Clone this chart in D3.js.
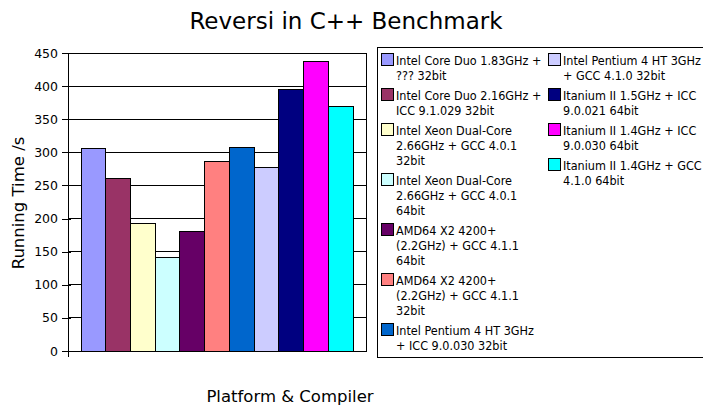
<!DOCTYPE html>
<html><head><meta charset="utf-8">
<script src="https://cdn.jsdelivr.net/npm/d3@7"></script>
<style>
body{margin:0;background:#fff;}
svg{display:block;}
</style></head>
<body>
<svg id="chart" width="703" height="412"></svg>
<script>
const title = "Reversi in C++ Benchmark";
const yTitle = "Running Time /s";
const xTitle = "Platform & Compiler";
const categories = [
  "Intel Core Duo 1.83GHz +\n??? 32bit",
  "Intel Core Duo 2.16GHz +\nICC 9.1.029 32bit",
  "Intel Xeon Dual-Core\n2.66GHz + GCC 4.0.1\n32bit",
  "Intel Xeon Dual-Core\n2.66GHz + GCC 4.0.1\n64bit",
  "AMD64 X2 4200+\n(2.2GHz) + GCC 4.1.1\n64bit",
  "AMD64 X2 4200+\n(2.2GHz) + GCC 4.1.1\n32bit",
  "Intel Pentium 4 HT 3GHz\n+ ICC 9.0.030 32bit",
  "Intel Pentium 4 HT 3GHz\n+ GCC 4.1.0 32bit",
  "Itanium II 1.5GHz + ICC\n9.0.021 64bit",
  "Itanium II 1.4GHz + ICC\n9.0.030 64bit",
  "Itanium II 1.4GHz + GCC\n4.1.0 64bit"
];
const values = [306, 261, 193, 141, 181, 286, 308, 277, 395, 437, 369];
const colors = ["#9999FF","#993366","#FFFFCC","#CCFFFF","#660066","#FF8080","#0066CC","#CCCCFF","#000080","#FF00FF","#00FFFF"];
const yTicks = [0,50,100,150,200,250,300,350,400,450];

const svg = d3.select("#chart");
const font = "'DejaVu Sans', Verdana, sans-serif";
const plot = {left:68, right:366, top:53, bottom:351};

const x = d3.scaleBand().domain(d3.range(categories.length))
  .range([plot.left + 13, plot.right - 13]).padding(0);
const y = d3.scaleLinear().domain([0,450]).range([plot.bottom, plot.top]);

// gridlines
svg.append("g").selectAll("line").data(yTicks.filter(d=>d>0)).join("line")
  .attr("x1", plot.left).attr("x2", plot.right)
  .attr("y1", d=>y(d)).attr("y2", d=>y(d))
  .attr("stroke","#000").attr("stroke-width",1).attr("shape-rendering","crispEdges");
// right border
svg.append("line").attr("x1",plot.right).attr("x2",plot.right).attr("y1",plot.top).attr("y2",plot.bottom)
  .attr("stroke","#000").attr("shape-rendering","crispEdges");

// bars
svg.append("g").selectAll("rect").data(values).join("rect")
  .attr("x",(d,i)=>x(i)).attr("width",x.bandwidth())
  .attr("y",d=>y(d)).attr("height",d=>y(0)-y(d))
  .attr("fill",(d,i)=>colors[i]).attr("stroke","#000").attr("stroke-width",1)
  .attr("shape-rendering","crispEdges");

// y axis
const yAxis = d3.axisLeft(y).tickValues(yTicks).tickSizeInner(6).tickSizeOuter(0).tickPadding(4);
const gy = svg.append("g").attr("transform",`translate(${plot.left},0)`).call(yAxis);
gy.select(".domain").attr("stroke","#000").attr("shape-rendering","crispEdges");
gy.selectAll(".tick line").attr("x2",-6).clone().attr("x2",3);
gy.selectAll(".tick line").attr("shape-rendering","crispEdges");
gy.selectAll("text").attr("font-family",font).attr("font-size",12.5).attr("fill","#000");

// x axis
const xs = d3.scaleLinear().domain([0,1]).range([plot.left, plot.right]);
const gx = svg.append("g").attr("transform",`translate(0,${plot.bottom})`)
  .call(d3.axisBottom(xs).tickValues([0]).tickSize(6).tickSizeOuter(0).tickFormat(""));
gx.select(".domain").attr("stroke","#000").attr("shape-rendering","crispEdges");
gx.selectAll("line").attr("shape-rendering","crispEdges");

// titles
svg.append("text").attr("x",346).attr("y",29).attr("text-anchor","middle")
  .attr("font-family",font).attr("font-size",23).text(title);
svg.append("text").attr("transform","translate(24,203) rotate(-90)").attr("text-anchor","middle")
  .attr("font-family",font).attr("font-size",16.5).text(yTitle);
svg.append("text").attr("x",290).attr("y",402).attr("text-anchor","middle")
  .attr("font-family",font).attr("font-size",16.5).text(xTitle);

// legend
const lg = svg.append("g");
lg.append("rect").attr("x",377.5).attr("y",47.5).attr("width",330).attr("height",310)
  .attr("fill","#fff").attr("stroke","#000").attr("shape-rendering","crispEdges");
const lineH = 15, itemGap = 5;
const cols = [{x:381, items:d3.range(0,7)}, {x:548, items:d3.range(7,11)}];
cols.forEach(col=>{
  let yy = 53;
  col.items.forEach((idx,k)=>{
    const lines = categories[idx].split("\n");
    const g = lg.append("g").attr("transform",`translate(${col.x},${yy})`);
    g.append("rect").attr("x",0.5).attr("y",0.5).attr("width",12).attr("height",12)
      .attr("fill",colors[idx]).attr("stroke","#000").attr("shape-rendering","crispEdges");
    const t = g.append("text").attr("font-family","'DejaVu Sans Condensed', 'DejaVu Sans', sans-serif")
      .attr("font-size",12.5).attr("fill","#000");
    lines.forEach((ln,j)=>t.append("tspan").attr("x",15).attr("y",12 + j*lineH).text(ln));
    yy += lines.length*lineH + itemGap;
  });
});
</script>
</body></html>
